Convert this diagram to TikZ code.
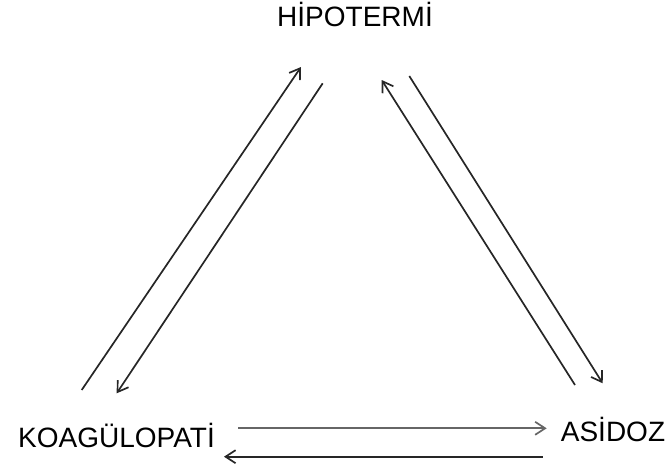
\documentclass[tikz,border=0pt]{standalone}
\usepackage{fontspec}
\setmainfont{Liberation Sans}
\usetikzlibrary{arrows.meta}
\begin{document}
\begin{tikzpicture}[x=1pt,y=-1pt,
  lbl/.style={inner sep=0pt,anchor=base,font=\fontsize{28}{30}\selectfont,text=black},
  conn/.style={line width=1.7pt,draw=black!85,-{Straight Barb[length=10pt,width=13pt,line width=1.7pt]}}]
\useasboundingbox (0,0) rectangle (670,472);
\node[lbl] (hipo) at (355,26) {HİPOTERMİ};
\node[lbl] (koag) at (116.5,447) {KOAGÜLOPATİ};
\node[lbl] (asid) at (613,441.7) {ASİDOZ};
% left pair
\coordinate (l1s) at (81.7,390);
\coordinate (l1e) at (301,67);
\coordinate (l2s) at (322.7,83.3);
\coordinate (l2e) at (116.7,393.3);
% right pair
\coordinate (r1s) at (575,385);
\coordinate (r1e) at (381.7,80);
\coordinate (r2s) at (409.3,76);
\coordinate (r2e) at (602.7,383.3);
% bottom pair
\coordinate (b1s) at (238.3,428.3);
\coordinate (b1e) at (546.7,428.3);
\coordinate (b2s) at (542.7,456.7);
\coordinate (b2e) at (224,456.7);
\draw[conn] (l1s) -- (l1e);
\draw[conn] (l2s) -- (l2e);
\draw[conn] (r1s) -- (r1e);
\draw[conn] (r2s) -- (r2e);
\draw[conn,draw=black!60] (b1s) -- (b1e);
\draw[conn] (b2s) -- (b2e);
\end{tikzpicture}
\end{document}
